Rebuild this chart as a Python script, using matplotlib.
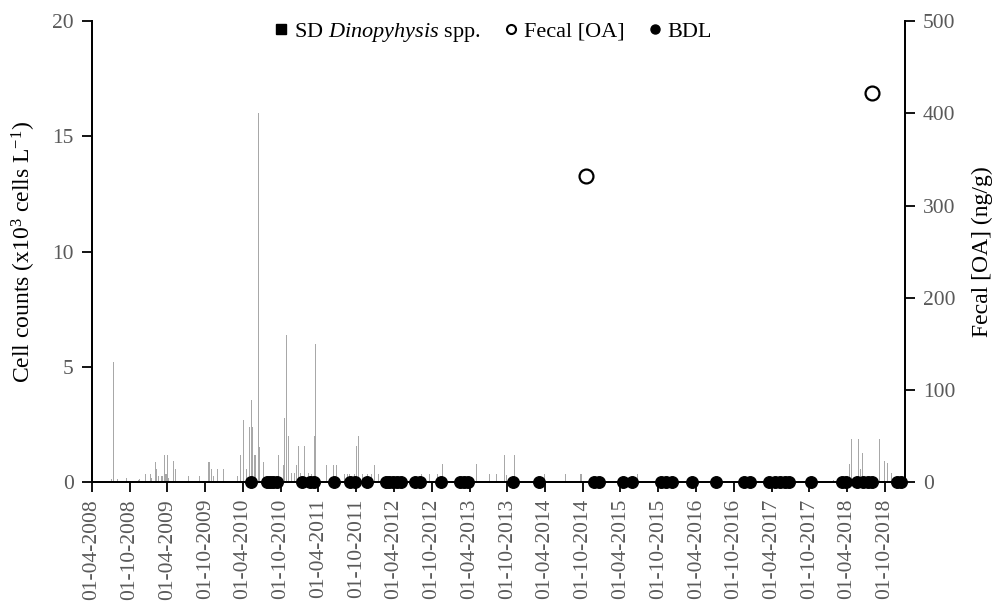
import matplotlib
matplotlib.use("Agg")
import matplotlib.pyplot as plt
import matplotlib.dates as mdates
from matplotlib.lines import Line2D
import pandas as pd

plt.rcParams['font.family'] = ['Liberation Serif', 'DejaVu Serif']
plt.rcParams['mathtext.fontset'] = 'custom'
plt.rcParams['mathtext.rm'] = 'Liberation Serif'
plt.rcParams['mathtext.it'] = 'Liberation Serif:italic'

# SD Dinopyhysis spp. cell counts (x10^3 cells/L)
cell_dates = ['2008-07-06', '2008-07-14', '2008-08-03', '2008-09-16', '2008-11-13',
              '2008-11-18', '2008-11-29', '2008-12-18', '2009-01-10', '2009-01-16',
              '2009-01-26', '2009-02-03', '2009-02-08', '2009-02-19', '2009-03-01',
              '2009-03-10', '2009-03-19', '2009-03-25', '2009-03-31', '2009-04-07',
              '2009-04-29', '2009-05-11', '2009-07-13', '2009-09-01', '2009-10-19',
              '2009-11-01', '2009-11-09', '2009-11-30', '2009-12-27', '2010-03-08',
              '2010-03-21', '2010-04-05', '2010-04-17', '2010-05-03', '2010-05-11',
              '2010-05-16', '2010-05-25', '2010-06-01', '2010-06-14', '2010-06-22',
              '2010-07-11', '2010-09-18', '2010-10-13', '2010-10-21', '2010-10-30',
              '2010-11-06', '2010-11-22', '2010-12-05', '2010-12-18', '2010-12-27',
              '2011-01-05', '2011-01-22', '2011-02-11', '2011-02-27', '2011-03-11',
              '2011-03-20', '2011-05-10', '2011-06-13', '2011-06-26', '2011-08-07',
              '2011-08-21', '2011-08-31', '2011-09-21', '2011-10-03', '2011-10-14',
              '2011-11-02', '2011-11-26', '2011-12-14', '2011-12-27', '2012-01-15',
              '2012-08-13', '2012-09-19', '2012-10-30', '2012-11-21', '2013-05-06',
              '2013-07-08', '2013-08-11', '2013-09-16', '2013-09-25', '2013-11-04',
              '2014-03-28', '2014-07-10', '2014-09-22', '2015-06-23', '2018-01-26',
              '2018-04-14', '2018-04-23', '2018-05-27', '2018-06-03', '2018-06-16',
              '2018-09-04', '2018-09-28', '2018-10-13', '2018-11-03']
cell_vals = [0.13, 5.2, 0.15, 0.2, 0.1,
             0.15, 0.05, 0.36, 0.36, 0.2,
             0.05, 0.9, 0.58, 0.27, 0.27,
             0.27, 1.18, 0.35, 1.18, 0.2,
             0.92, 0.58, 0.27, 0.27, 0.9,
             0.58, 0.27, 0.58, 0.58, 0.27,
             1.18, 2.7, 0.58, 2.41, 3.57,
             2.4, 1.18, 1.2, 16.0, 1.55,
             0.9, 1.18, 0.75, 2.8, 6.4,
             2.0, 0.4, 0.4, 0.75, 1.57,
             0.4, 1.57, 0.4, 0.36, 2.0,
             6.0, 0.75, 0.75, 0.75, 0.36,
             0.36, 0.36, 0.36, 1.57, 2.0,
             0.36, 0.36, 0.36, 0.75, 0.36,
             0.36, 0.36, 0.36, 0.78, 0.78,
             0.36, 0.36, 1.18, 0.3, 1.18,
             0.36, 0.36, 0.36, 0.36, 0.1,
             0.78, 1.87, 1.87, 0.56, 1.26,
             1.87, 0.94, 0.83, 0.42]

# Fecal OA detected (ng/g)
oa_dates = ['2014-10-17', '2018-07-31']
oa_vals = [332, 422]

# Fecal samples below detection limit
bdl_dates = ['2010-05-08', '2010-07-25', '2010-08-10', '2010-08-26', '2010-09-11',
             '2011-01-10', '2011-02-19', '2011-03-10', '2011-06-16', '2011-09-03',
             '2011-09-25', '2011-11-22', '2012-02-21', '2012-03-07', '2012-03-26',
             '2012-04-15', '2012-05-05', '2012-07-12', '2012-08-05', '2012-11-13',
             '2013-02-14', '2013-03-05', '2013-03-26', '2013-10-30', '2014-03-01',
             '2014-11-26', '2014-12-20', '2015-04-12', '2015-05-25', '2015-10-14',
             '2015-11-07', '2015-12-05', '2016-03-12', '2016-07-06', '2016-11-16',
             '2016-12-18', '2017-03-21', '2017-04-18', '2017-05-12', '2017-06-06',
             '2017-06-25', '2017-10-08', '2018-03-08', '2018-03-27', '2018-05-19',
             '2018-06-15', '2018-07-09', '2018-07-31', '2018-11-29', '2018-12-18']

tick_dates = pd.date_range('2008-04-01', '2018-10-01', freq='6MS')

fig = plt.figure(figsize=(10.05, 6.04), dpi=100)
ax = fig.add_axes([0.0915, 0.2015, 0.809, 0.7635])
ax2 = ax.twinx()

ax.bar(pd.to_datetime(cell_dates), cell_vals, width=5, color='#a8a8a8', linewidth=0)

ax2.plot(pd.to_datetime(bdl_dates), [0] * len(bdl_dates), 'o', color='black',
         markersize=8.3, clip_on=False, zorder=5)
ax2.plot(pd.to_datetime(oa_dates), oa_vals, 'o', markerfacecolor='white',
         markeredgecolor='black', markeredgewidth=1.6, markersize=10, clip_on=False)

ax.set_xlim(pd.Timestamp('2008-04-01'), pd.Timestamp('2019-01-06'))
ax.set_ylim(0, 20)
ax2.set_ylim(0, 500)
ax.set_yticks([0, 5, 10, 15, 20])
ax2.set_yticks([0, 100, 200, 300, 400, 500])
ax.set_xticks(tick_dates)
ax.xaxis.set_major_formatter(mdates.DateFormatter('%d-%m-%Y'))

for a in (ax, ax2):
    a.spines['top'].set_visible(False)
    for s in ('left', 'right', 'bottom'):
        a.spines[s].set_linewidth(1.3)
        a.spines[s].set_color('black')
ax.tick_params(axis='y', labelsize=15.5, labelcolor='#595959', length=7, width=1.3, pad=6)
ax2.tick_params(axis='y', labelsize=15.5, labelcolor='#595959', length=7, width=1.3, pad=6)
ax.tick_params(axis='x', labelsize=15.5, labelcolor='#595959', length=7, width=1.3,
               rotation=90, pad=5)

ax.set_ylabel('Cell counts (x10$^{3}$ cells L$^{-1}$)', fontsize=17, labelpad=10)
ax2.set_ylabel('Fecal [OA] (ng/g)', fontsize=17, labelpad=12)

handles = [
    Line2D([], [], linestyle='none', marker='s', color='black', markersize=6.5),
    Line2D([], [], linestyle='none', marker='o', markerfacecolor='white',
           markeredgecolor='black', markeredgewidth=1.5, markersize=6.5),
    Line2D([], [], linestyle='none', marker='o', color='black', markersize=6.5),
]
labels = ['SD $\\it{Dinopyhysis}$ spp.', 'Fecal [OA]', 'BDL']
fig.legend(handles, labels, loc='center', bbox_to_anchor=(0.489, 0.947), ncol=3,
           frameon=False, fontsize=16, handletextpad=0.15, columnspacing=0.9,
           handlelength=0.9)

fig.savefig('out.png', dpi=100)
